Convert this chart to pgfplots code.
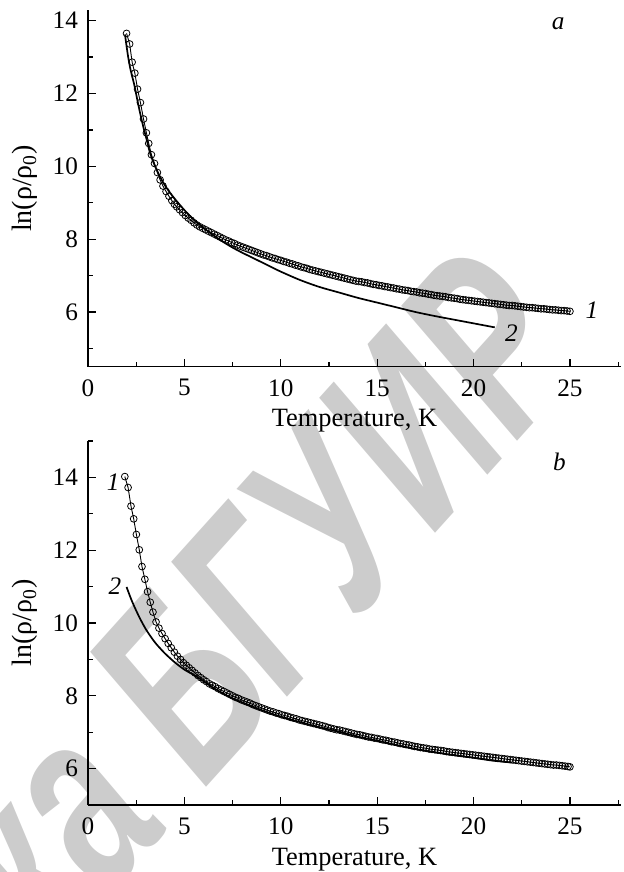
\documentclass[border=0pt]{standalone}
\usepackage{fontspec}
\setmainfont{Liberation Serif}
\newfontfamily\wmfont{Liberation Sans}
\usepackage{pgfplots}
\pgfplotsset{compat=1.18}
\tikzset{lab/.style={font=\itshape\fontsize{12.6}{14}\selectfont}}
\pgfplotsset{
  panel/.style={
    scale only axis, width=266.5pt, xmin=0, xmax=27.65,
    axis x line*=bottom, axis y line*=left,
    axis line style={line width=0.65pt, -},
    xtick={0,5,...,25}, minor xtick={2.5,7.5,...,27.5},
    ytick={6,8,...,14},
    tick align=inside, major tick length=4pt, minor tick length=2.5pt,
    every tick/.style={black, line width=0.6pt},
    tick label style={font=\fontsize{12.6}{14}\selectfont},
    /pgf/number format/assume math mode=true,
    xticklabel shift=2.8pt, yticklabel shift=1.5pt,
    xlabel={Temperature, K}, ylabel={ln(ρ/ρ\textsubscript{0})},
    every axis x label/.style={at={(axis description cs:0.5,0)}, anchor=base, yshift=-30pt,
      font=\fontsize{13.2}{15}\selectfont},
    every axis y label/.style={at={(axis description cs:-0.1182,0.5)}, rotate=90, anchor=center,
      font=\fontsize{14}{16}\selectfont},
    clip=false,
  },
  circ/.style={black, line width=0.45pt, mark=o, mark size=1.7pt,
    mark options={fill=white, draw=black, line width=0.4pt, solid}},
  fit/.style={black, line width=0.85pt, smooth, no marks},
}
\begin{document}
\begin{tikzpicture}
\useasboundingbox (-44pt,-252.65pt) rectangle (268pt,183.35pt);
\node[rotate=48, xscale=0.9, yscale=1.35, anchor=base east, inner sep=0pt, text=black!20,
  font=\wmfont\bfseries\itshape\fontsize{95}{100}\selectfont] at (252pt,4pt) {Библиотека БГУИР};

% ---------------- panel a ----------------
\begin{axis}[panel, at={(0pt,0pt)}, anchor=south west, height=178.3pt,
  ymin=4.5, ymax=14.29, minor ytick={5,7,9,11,13}]
\addplot[circ] coordinates {
(2.00,13.65)(2.16,13.36)(2.29,12.86)(2.43,12.56)(2.57,12.12)(2.72,11.75)(2.88,11.30)
(3.03,10.92)(3.15,10.63)(3.29,10.32)(3.45,10.08)(3.60,9.83)(3.74,9.63)(3.89,9.46)
(4.05,9.31)(4.20,9.18)(4.35,9.06)(4.48,8.96)(4.60,8.89)(4.75,8.81)(4.90,8.73)
(5.05,8.65)(5.20,8.58)(5.35,8.52)(5.50,8.45)(5.65,8.39)(5.80,8.34)(5.95,8.30)
(6.10,8.26)(6.25,8.22)(6.40,8.18)(6.55,8.14)(6.70,8.10)(6.85,8.06)(7.00,8.02)
(7.15,7.98)(7.30,7.95)(7.45,7.91)(7.60,7.88)(7.75,7.84)(7.90,7.81)(8.05,7.78)
(8.20,7.75)(8.35,7.72)(8.50,7.69)(8.65,7.66)(8.80,7.63)(8.95,7.60)(9.10,7.57)
(9.25,7.55)(9.40,7.52)(9.55,7.49)(9.70,7.47)(9.85,7.44)(10.00,7.42)(10.15,7.39)
(10.30,7.37)(10.45,7.34)(10.60,7.32)(10.75,7.29)(10.90,7.27)(11.05,7.24)(11.20,7.22)
(11.35,7.20)(11.50,7.17)(11.65,7.15)(11.80,7.13)(11.95,7.11)(12.10,7.09)(12.25,7.07)
(12.40,7.05)(12.55,7.03)(12.70,7.01)(12.85,6.99)(13.00,6.97)(13.15,6.95)(13.30,6.93)
(13.45,6.91)(13.60,6.89)(13.75,6.87)(13.90,6.85)(14.05,6.84)(14.20,6.83)(14.35,6.81)
(14.50,6.80)(14.65,6.78)(14.80,6.76)(14.95,6.75)(15.10,6.73)(15.25,6.72)(15.40,6.70)
(15.55,6.69)(15.70,6.67)(15.85,6.66)(16.00,6.64)(16.15,6.63)(16.30,6.61)(16.45,6.60)
(16.60,6.59)(16.75,6.57)(16.90,6.56)(17.05,6.55)(17.20,6.53)(17.35,6.52)(17.50,6.51)
(17.65,6.49)(17.80,6.48)(17.95,6.46)(18.10,6.45)(18.25,6.44)(18.40,6.43)(18.55,6.42)
(18.70,6.40)(18.85,6.39)(19.00,6.38)(19.15,6.37)(19.30,6.35)(19.45,6.34)(19.60,6.33)
(19.75,6.32)(19.90,6.31)(20.05,6.30)(20.20,6.29)(20.35,6.28)(20.50,6.27)(20.65,6.26)
(20.80,6.25)(20.95,6.24)(21.10,6.23)(21.25,6.22)(21.40,6.21)(21.55,6.20)(21.70,6.19)
(21.85,6.18)(22.00,6.18)(22.15,6.17)(22.30,6.16)(22.45,6.15)(22.60,6.14)(22.75,6.13)
(22.90,6.12)(23.05,6.12)(23.20,6.11)(23.35,6.10)(23.50,6.09)(23.65,6.09)(23.80,6.08)
(23.95,6.07)(24.10,6.06)(24.25,6.06)(24.40,6.05)(24.55,6.04)(24.70,6.04)(24.85,6.03)
(25.00,6.02)};
\addplot[fit] coordinates {
(1.92,13.62)(2.0,13.30)(2.1,12.95)(2.2,12.67)(2.3,12.45)(2.4,12.24)(2.5,11.98)
(2.6,11.72)(2.7,11.47)(2.8,11.24)(2.9,11.02)(3.0,10.82)(3.1,10.62)(3.2,10.40)
(3.35,10.17)(3.5,9.98)(3.75,9.70)(4.0,9.47)(4.25,9.28)(4.5,9.11)(5.0,8.80)
(5.5,8.53)(6.0,8.31)(6.5,8.11)(7.0,7.93)(7.5,7.77)(8.0,7.63)(8.5,7.50)(9.0,7.37)
(9.5,7.24)(10,7.11)(11,6.88)(12,6.69)(13,6.54)(14,6.39)(15,6.26)(16,6.13)
(17,6.00)(18,5.89)(19,5.79)(20,5.69)(21.1,5.58)};
\node[lab] at (axis cs:24.39,13.93) {a};
\node[lab] at (axis cs:26.14,6.05) {1};
\node[lab] at (axis cs:21.97,5.41) {2};
\end{axis}

% ---------------- panel b ----------------
\begin{axis}[panel, at={(0pt,-219.2pt)}, anchor=south west, height=182.1pt,
  ymin=5, ymax=15, minor ytick={7,9,11,13,15}]
\addplot[circ] coordinates {
(1.91,14.02)(2.08,13.72)(2.23,13.21)(2.37,12.86)(2.51,12.43)(2.66,12.01)(2.80,11.55)
(2.95,11.20)(3.09,10.86)(3.23,10.57)(3.37,10.30)(3.53,10.03)(3.68,9.86)(3.84,9.71)
(4.00,9.57)(4.16,9.44)(4.32,9.32)(4.48,9.20)(4.64,9.09)(4.80,9.00)(4.95,8.91)
(5.10,8.84)(5.25,8.77)(5.40,8.70)(5.55,8.63)(5.70,8.56)(5.85,8.50)(6.00,8.44)
(6.15,8.39)(6.30,8.33)(6.45,8.29)(6.60,8.25)(6.75,8.20)(6.90,8.16)(7.05,8.12)
(7.20,8.08)(7.35,8.04)(7.50,8.00)(7.65,7.96)(7.80,7.93)(7.95,7.89)(8.10,7.86)
(8.25,7.83)(8.40,7.80)(8.55,7.76)(8.70,7.73)(8.85,7.70)(9.00,7.67)(9.15,7.64)
(9.30,7.61)(9.45,7.58)(9.60,7.56)(9.75,7.53)(9.90,7.51)(10.05,7.48)(10.20,7.46)
(10.35,7.44)(10.50,7.41)(10.65,7.39)(10.80,7.37)(10.95,7.34)(11.10,7.32)(11.25,7.30)
(11.40,7.28)(11.55,7.26)(11.70,7.24)(11.85,7.22)(12.00,7.20)(12.15,7.18)(12.30,7.16)
(12.45,7.13)(12.60,7.11)(12.75,7.09)(12.90,7.07)(13.05,7.06)(13.20,7.04)(13.35,7.02)
(13.50,7.00)(13.65,6.98)(13.80,6.96)(13.95,6.94)(14.10,6.93)(14.25,6.91)(14.40,6.89)
(14.55,6.87)(14.70,6.86)(14.85,6.84)(15.00,6.83)(15.15,6.81)(15.30,6.79)(15.45,6.78)
(15.60,6.76)(15.75,6.74)(15.90,6.73)(16.05,6.71)(16.20,6.69)(16.35,6.68)(16.50,6.66)
(16.65,6.65)(16.80,6.63)(16.95,6.61)(17.10,6.60)(17.25,6.58)(17.40,6.57)(17.55,6.56)
(17.70,6.54)(17.85,6.53)(18.00,6.52)(18.15,6.51)(18.30,6.50)(18.45,6.49)(18.60,6.47)
(18.75,6.46)(18.90,6.45)(19.05,6.44)(19.20,6.43)(19.35,6.42)(19.50,6.41)(19.65,6.40)
(19.80,6.39)(19.95,6.38)(20.10,6.37)(20.25,6.36)(20.40,6.35)(20.55,6.34)(20.70,6.33)
(20.85,6.32)(21.00,6.31)(21.15,6.30)(21.30,6.29)(21.45,6.28)(21.60,6.27)(21.75,6.26)
(21.90,6.25)(22.05,6.24)(22.20,6.23)(22.35,6.22)(22.50,6.21)(22.65,6.20)(22.80,6.19)
(22.95,6.18)(23.10,6.17)(23.25,6.16)(23.40,6.15)(23.55,6.14)(23.70,6.13)(23.85,6.12)
(24.00,6.11)(24.15,6.10)(24.30,6.10)(24.45,6.09)(24.60,6.08)(24.75,6.07)(24.90,6.06)
(25.00,6.05)};
\addplot[fit] coordinates {
(2.0,10.99)(2.25,10.64)(2.5,10.34)(2.75,10.07)(3.0,9.83)(3.25,9.63)(3.5,9.45)
(3.75,9.30)(4.0,9.16)(4.5,8.92)(5.0,8.72)(5.5,8.57)(6.0,8.40)(6.5,8.22)(7.0,8.07)
(7.5,7.93)(8.0,7.82)(9.0,7.61)(10.0,7.43)(11,7.28)(12,7.14)(13,7.02)(14,6.88)
(15,6.77)(16,6.65)(17,6.54)(18,6.45)(19,6.37)(20,6.30)(21,6.22)(22,6.17)};
\node[lab] at (axis cs:24.45,14.43) {b};
\node[lab] at (axis cs:1.31,13.88) {1};
\node[lab] at (axis cs:1.40,11.00) {2};
\end{axis}
\end{tikzpicture}
\end{document}
